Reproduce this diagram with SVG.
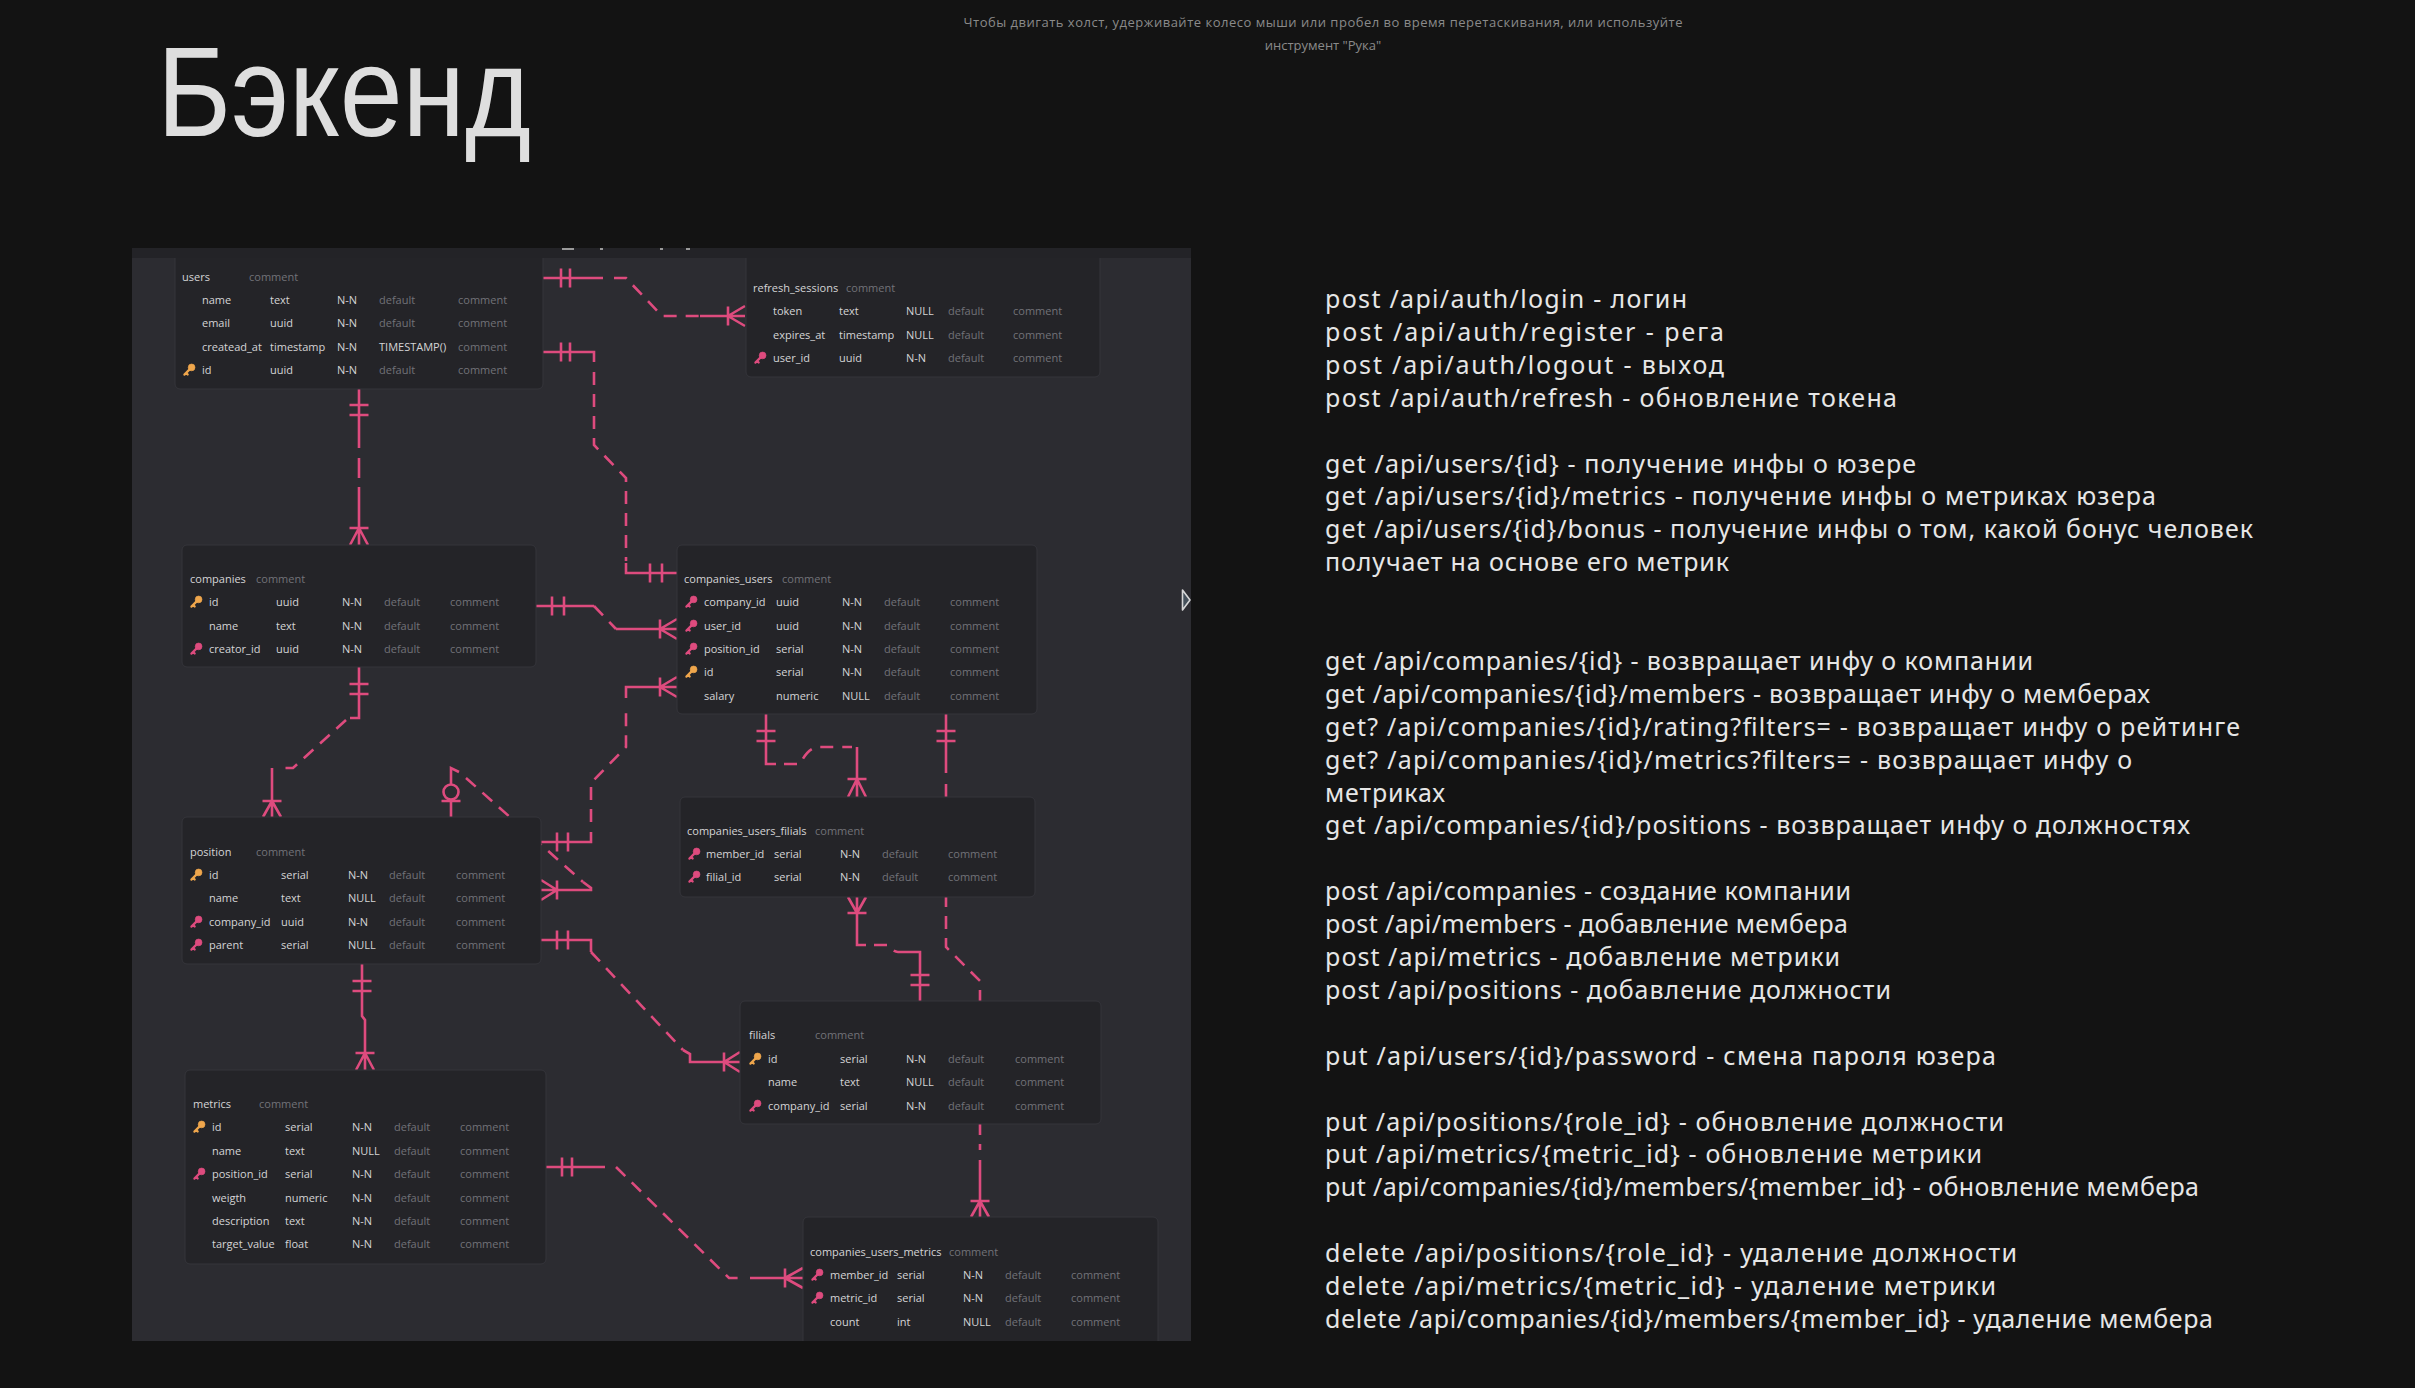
<svg xmlns="http://www.w3.org/2000/svg" xmlns:xlink="http://www.w3.org/1999/xlink" width="2415" height="1388" viewBox="0 0 2415 1388">
<style>
.bg{fill:#131313}
.panel{fill:#2c2c31}
.strip{fill:#232327}
.tb{fill:#242428;stroke:#35353b;stroke-width:1}
.t{font-family:"Open Sans","Noto Sans",sans-serif;font-size:11px;fill:#d4d4d6}
.c{fill:#727278}
.rel{fill:none;stroke:#de4b7e;stroke-width:2.6}
.dash{stroke-dasharray:13 9}
.pk{fill:#efa64c;stroke:#efa64c}
.fk{fill:#de4b7e;stroke:#de4b7e}
.api{font-family:"Noto Sans","DejaVu Sans",sans-serif;font-size:25px;fill:#e6e6e6}
.hint{font-family:"Open Sans","Noto Sans",sans-serif;font-size:13px;fill:#8a8a8a}
.title{font-family:"Liberation Sans","DejaVu Sans",sans-serif;font-size:128px;fill:#dedede}
</style>
<defs>
<g id="key">
<circle cx="2.6" cy="-2.6" r="3.4" stroke-width="0.6"/>
<path d="M0.6,-0.6 L-4.6,4.6 M-2.9,2.9 L-1.3,4.5" fill="none" stroke-width="2.2" stroke-linecap="round"/>
</g>
<clipPath id="pclip"><rect x="132" y="248" width="1059" height="1093"/></clipPath>
</defs>

<rect class="bg" x="0" y="0" width="2415" height="1388"/>

<!-- canvas hint -->
<text class="hint" x="1323" y="27" text-anchor="middle" textLength="719">Чтобы двигать холст, удерживайте колесо мыши или пробел во время перетаскивания, или используйте</text>
<text class="hint" x="1323" y="50" text-anchor="middle">инструмент "Рука"</text>

<!-- heading -->
<text class="title" x="157" y="136" textLength="374" lengthAdjust="spacingAndGlyphs">Бэкенд</text>

<!-- schema screenshot -->
<rect class="panel" x="132" y="248" width="1059" height="1093"/>
<g clip-path="url(#pclip)">

<g id="connectors">
<g id="rel-users-refresh">
<path class="rel" d="M543,278 H603 M700,316 H745 M561,268.5 V287.5 M570,268.5 V287.5 M728,306.5 V325.5 M728,316 L745,306 M728,316 L745,326"/>
<path class="rel dash" d="M614,278 H626 L662,316 H700"/>
</g>
<g id="rel-users-companies">
<path class="rel" d="M359,389 V448 M359,458 V478 M359,487 V545 M349.5,405 H368.5 M349.5,415 H368.5 M349.5,528 H368.5 M359,528 L350,545 M359,528 L368,545"/>
</g>
<g id="rel-users-members">
<path class="rel" d="M543,352 H594 V362 M626,563 V573 H677 M561,342.5 V361.5 M570,342.5 V361.5 M650,563.5 V582.5 M662,563.5 V582.5"/>
<path class="rel dash" d="M594,372 V445 L626,478 V561"/>
</g>
<g id="rel-companies-members">
<path class="rel" d="M536,606 H594 M616,629 H677 M552,596.5 V615.5 M564,596.5 V615.5 M660,619.5 V638.5 M660,629 L677,619 M660,629 L677,639"/>
<path class="rel dash" d="M594,606 L616,629"/>
</g>
<g id="rel-position-members">
<path class="rel" d="M541,842 H591 V832 M626,698 V687 H677 M557,832.5 V851.5 M568,832.5 V851.5 M660,677.5 V696.5 M660,687 L677,677 M660,687 L677,697"/>
<path class="rel dash" d="M591,822 V783 L626,747 V705"/>
</g>
<g id="rel-companies-position">
<path class="rel" d="M359,667 V718 H350 M272,768 V817 M349.5,684 H368.5 M349.5,694 H368.5 M262.5,801 H281.5 M272,801 L263,817 M272,801 L281,817"/>
<path class="rel dash" d="M346,720 L293,768 H278"/>
</g>
<g id="rel-position-parent">
<path class="rel" d="M451,817 V768 L459,772 M583,882 L591,888 V890 H541 M441.5,801 H460.5 M557,880.5 V899.5 M557,890 L541,880 M557,890 L541,900"/>
<circle class="rel" cx="451" cy="792" r="7.5" style="fill:#2c2c31"/>
<path class="rel dash" d="M466,778 L583,882"/>
</g>
<g id="rel-position-metrics">
<path class="rel" d="M362,964 V1016 L365,1020 V1070 M352.5,981 H371.5 M352.5,991 H371.5 M355.5,1053 H374.5 M365,1053 L356,1070 M365,1053 L374,1070"/>
</g>
<g id="rel-position-filials">
<path class="rel" d="M541,940 H591 V952 M683,1050 L690,1054 V1062 H740 M557,930.5 V949.5 M568,930.5 V949.5 M724,1052.5 V1071.5 M724,1062 L740,1052 M724,1062 L740,1072"/>
<path class="rel dash" d="M591,952 L683,1050"/>
</g>
<g id="rel-metrics-member-metrics">
<path class="rel" d="M546,1167 H605 M750,1278 H803 M562,1157.5 V1176.5 M572,1157.5 V1176.5 M785,1268.5 V1287.5 M785,1278 L803,1268 M785,1278 L803,1288"/>
<path class="rel dash" d="M616,1167 L729,1278 H745"/>
</g>
<g id="rel-members-member-filials">
<path class="rel" d="M766,714 V764 H776 M857,747 V797 M756.5,731 H775.5 M756.5,741 H775.5 M847.5,779 H866.5 M857,779 L848,797 M857,779 L866,797"/>
<path class="rel dash" d="M784,764 H800 Q808,748 818,747 H852"/>
</g>
<g id="rel-members-member-metrics">
<path class="rel" d="M946,714 V773 M980,1160 V1217 M936.5,731 H955.5 M936.5,741 H955.5 M970.5,1201 H989.5 M980,1201 L971,1217 M980,1201 L989,1217"/>
<path class="rel dash" d="M946,784 V947 L980,981 V1150"/>
</g>
<g id="rel-member-filials-filials">
<path class="rel" d="M857,897 V945 H866 M898,952 H920 V1001 M847.5,913 H866.5 M857,913 L848,897 M857,913 L866,897 M910.5,975 H929.5 M910.5,985 H929.5"/>
<path class="rel dash" d="M874,945 H888 Q893,952 898,952"/>
</g>
</g>

<g id="t-users">
<rect class="tb" x="175" y="240" width="368" height="149" rx="5"/>
<text class="t" x="182" y="281">users</text><text class="t c" x="249" y="281">comment</text>
<text class="t" x="202" y="304">name</text><text class="t" x="270" y="304">text</text><text class="t" x="337" y="304">N-N</text><text class="t c" x="379" y="304">default</text><text class="t c" x="458" y="304">comment</text>
<text class="t" x="202" y="327">email</text><text class="t" x="270" y="327">uuid</text><text class="t" x="337" y="327">N-N</text><text class="t c" x="379" y="327">default</text><text class="t c" x="458" y="327">comment</text>
<text class="t" x="202" y="351">createad_at</text><text class="t" x="270" y="351">timestamp</text><text class="t" x="337" y="351">N-N</text><text class="t" x="379" y="351">TIMESTAMP()</text><text class="t c" x="458" y="351">comment</text>
<use href="#key" class="pk" x="189" y="370"/>
<text class="t" x="202" y="374">id</text><text class="t" x="270" y="374">uuid</text><text class="t" x="337" y="374">N-N</text><text class="t c" x="379" y="374">default</text><text class="t c" x="458" y="374">comment</text>
</g>

<g id="t-refresh_sessions">
<rect class="tb" x="746" y="240" width="354" height="137" rx="5"/>
<text class="t" x="753" y="292">refresh_sessions</text><text class="t c" x="846" y="292">comment</text>
<text class="t" x="773" y="315">token</text><text class="t" x="839" y="315">text</text><text class="t" x="906" y="315">NULL</text><text class="t c" x="948" y="315">default</text><text class="t c" x="1013" y="315">comment</text>
<text class="t" x="773" y="339">expires_at</text><text class="t" x="839" y="339">timestamp</text><text class="t" x="906" y="339">NULL</text><text class="t c" x="948" y="339">default</text><text class="t c" x="1013" y="339">comment</text>
<use href="#key" class="fk" x="760" y="358"/>
<text class="t" x="773" y="362">user_id</text><text class="t" x="839" y="362">uuid</text><text class="t" x="906" y="362">N-N</text><text class="t c" x="948" y="362">default</text><text class="t c" x="1013" y="362">comment</text>
</g>

<g id="t-companies">
<rect class="tb" x="182" y="545" width="354" height="122" rx="5"/>
<text class="t" x="190" y="583">companies</text><text class="t c" x="256" y="583">comment</text>
<use href="#key" class="pk" x="196" y="602"/>
<text class="t" x="209" y="606">id</text><text class="t" x="276" y="606">uuid</text><text class="t" x="342" y="606">N-N</text><text class="t c" x="384" y="606">default</text><text class="t c" x="450" y="606">comment</text>
<text class="t" x="209" y="630">name</text><text class="t" x="276" y="630">text</text><text class="t" x="342" y="630">N-N</text><text class="t c" x="384" y="630">default</text><text class="t c" x="450" y="630">comment</text>
<use href="#key" class="fk" x="196" y="649"/>
<text class="t" x="209" y="653">creator_id</text><text class="t" x="276" y="653">uuid</text><text class="t" x="342" y="653">N-N</text><text class="t c" x="384" y="653">default</text><text class="t c" x="450" y="653">comment</text>
</g>

<g id="t-companies_users">
<rect class="tb" x="677" y="545" width="360" height="169" rx="5"/>
<text class="t" x="684" y="583">companies_users</text><text class="t c" x="782" y="583">comment</text>
<use href="#key" class="fk" x="691" y="602"/>
<text class="t" x="704" y="606">company_id</text><text class="t" x="776" y="606">uuid</text><text class="t" x="842" y="606">N-N</text><text class="t c" x="884" y="606">default</text><text class="t c" x="950" y="606">comment</text>
<use href="#key" class="fk" x="691" y="626"/>
<text class="t" x="704" y="630">user_id</text><text class="t" x="776" y="630">uuid</text><text class="t" x="842" y="630">N-N</text><text class="t c" x="884" y="630">default</text><text class="t c" x="950" y="630">comment</text>
<use href="#key" class="fk" x="691" y="649"/>
<text class="t" x="704" y="653">position_id</text><text class="t" x="776" y="653">serial</text><text class="t" x="842" y="653">N-N</text><text class="t c" x="884" y="653">default</text><text class="t c" x="950" y="653">comment</text>
<use href="#key" class="pk" x="691" y="672"/>
<text class="t" x="704" y="676">id</text><text class="t" x="776" y="676">serial</text><text class="t" x="842" y="676">N-N</text><text class="t c" x="884" y="676">default</text><text class="t c" x="950" y="676">comment</text>
<text class="t" x="704" y="700">salary</text><text class="t" x="776" y="700">numeric</text><text class="t" x="842" y="700">NULL</text><text class="t c" x="884" y="700">default</text><text class="t c" x="950" y="700">comment</text>
</g>

<g id="t-position">
<rect class="tb" x="182" y="817" width="359" height="147" rx="5"/>
<text class="t" x="190" y="856">position</text><text class="t c" x="256" y="856">comment</text>
<use href="#key" class="pk" x="196" y="875"/>
<text class="t" x="209" y="879">id</text><text class="t" x="281" y="879">serial</text><text class="t" x="348" y="879">N-N</text><text class="t c" x="389" y="879">default</text><text class="t c" x="456" y="879">comment</text>
<text class="t" x="209" y="902">name</text><text class="t" x="281" y="902">text</text><text class="t" x="348" y="902">NULL</text><text class="t c" x="389" y="902">default</text><text class="t c" x="456" y="902">comment</text>
<use href="#key" class="fk" x="196" y="922"/>
<text class="t" x="209" y="926">company_id</text><text class="t" x="281" y="926">uuid</text><text class="t" x="348" y="926">N-N</text><text class="t c" x="389" y="926">default</text><text class="t c" x="456" y="926">comment</text>
<use href="#key" class="fk" x="196" y="945"/>
<text class="t" x="209" y="949">parent</text><text class="t" x="281" y="949">serial</text><text class="t" x="348" y="949">NULL</text><text class="t c" x="389" y="949">default</text><text class="t c" x="456" y="949">comment</text>
</g>

<g id="t-companies_users_filials">
<rect class="tb" x="680" y="797" width="355" height="100" rx="5"/>
<text class="t" x="687" y="835">companies_users_filials</text><text class="t c" x="815" y="835">comment</text>
<use href="#key" class="fk" x="694" y="854"/>
<text class="t" x="706" y="858">member_id</text><text class="t" x="774" y="858">serial</text><text class="t" x="840" y="858">N-N</text><text class="t c" x="882" y="858">default</text><text class="t c" x="948" y="858">comment</text>
<use href="#key" class="fk" x="694" y="877"/>
<text class="t" x="706" y="881">filial_id</text><text class="t" x="774" y="881">serial</text><text class="t" x="840" y="881">N-N</text><text class="t c" x="882" y="881">default</text><text class="t c" x="948" y="881">comment</text>
</g>

<g id="t-metrics">
<rect class="tb" x="185" y="1070" width="361" height="194" rx="5"/>
<text class="t" x="193" y="1108">metrics</text><text class="t c" x="259" y="1108">comment</text>
<use href="#key" class="pk" x="199" y="1127"/>
<text class="t" x="212" y="1131">id</text><text class="t" x="285" y="1131">serial</text><text class="t" x="352" y="1131">N-N</text><text class="t c" x="394" y="1131">default</text><text class="t c" x="460" y="1131">comment</text>
<text class="t" x="212" y="1155">name</text><text class="t" x="285" y="1155">text</text><text class="t" x="352" y="1155">NULL</text><text class="t c" x="394" y="1155">default</text><text class="t c" x="460" y="1155">comment</text>
<use href="#key" class="fk" x="199" y="1174"/>
<text class="t" x="212" y="1178">position_id</text><text class="t" x="285" y="1178">serial</text><text class="t" x="352" y="1178">N-N</text><text class="t c" x="394" y="1178">default</text><text class="t c" x="460" y="1178">comment</text>
<text class="t" x="212" y="1202">weigth</text><text class="t" x="285" y="1202">numeric</text><text class="t" x="352" y="1202">N-N</text><text class="t c" x="394" y="1202">default</text><text class="t c" x="460" y="1202">comment</text>
<text class="t" x="212" y="1225">description</text><text class="t" x="285" y="1225">text</text><text class="t" x="352" y="1225">N-N</text><text class="t c" x="394" y="1225">default</text><text class="t c" x="460" y="1225">comment</text>
<text class="t" x="212" y="1248">target_value</text><text class="t" x="285" y="1248">float</text><text class="t" x="352" y="1248">N-N</text><text class="t c" x="394" y="1248">default</text><text class="t c" x="460" y="1248">comment</text>
</g>

<g id="t-filials">
<rect class="tb" x="740" y="1001" width="361" height="123" rx="5"/>
<text class="t" x="749" y="1039">filials</text><text class="t c" x="815" y="1039">comment</text>
<use href="#key" class="pk" x="755" y="1059"/>
<text class="t" x="768" y="1063">id</text><text class="t" x="840" y="1063">serial</text><text class="t" x="906" y="1063">N-N</text><text class="t c" x="948" y="1063">default</text><text class="t c" x="1015" y="1063">comment</text>
<text class="t" x="768" y="1086">name</text><text class="t" x="840" y="1086">text</text><text class="t" x="906" y="1086">NULL</text><text class="t c" x="948" y="1086">default</text><text class="t c" x="1015" y="1086">comment</text>
<use href="#key" class="fk" x="755" y="1106"/>
<text class="t" x="768" y="1110">company_id</text><text class="t" x="840" y="1110">serial</text><text class="t" x="906" y="1110">N-N</text><text class="t c" x="948" y="1110">default</text><text class="t c" x="1015" y="1110">comment</text>
</g>

<g id="t-companies_users_metrics">
<rect class="tb" x="803" y="1217" width="355" height="135" rx="5"/>
<text class="t" x="810" y="1256">companies_users_metrics</text><text class="t c" x="949" y="1256">comment</text>
<use href="#key" class="fk" x="817" y="1275"/>
<text class="t" x="830" y="1279">member_id</text><text class="t" x="897" y="1279">serial</text><text class="t" x="963" y="1279">N-N</text><text class="t c" x="1005" y="1279">default</text><text class="t c" x="1071" y="1279">comment</text>
<use href="#key" class="fk" x="817" y="1298"/>
<text class="t" x="830" y="1302">metric_id</text><text class="t" x="897" y="1302">serial</text><text class="t" x="963" y="1302">N-N</text><text class="t c" x="1005" y="1302">default</text><text class="t c" x="1071" y="1302">comment</text>
<text class="t" x="830" y="1326">count</text><text class="t" x="897" y="1326">int</text><text class="t" x="963" y="1326">NULL</text><text class="t c" x="1005" y="1326">default</text><text class="t c" x="1071" y="1326">comment</text>
</g>

<!-- toolbar strip along the top edge, partly covering the upper tables -->
<rect class="strip" x="132" y="248" width="1059" height="10"/>
<rect x="562" y="248" width="12" height="2" fill="#9a9a9a"/>
<rect x="600" y="248" width="3" height="2" fill="#9a9a9a"/>
<rect x="660" y="248" width="3" height="2" fill="#9a9a9a"/>
<rect x="686" y="248" width="4" height="2" fill="#9a9a9a"/>
<!-- side-panel handle -->
<path d="M1182.5,590 L1190,600 L1182.5,610 Z" fill="#45505a" stroke="#d6d6d6" stroke-width="1.6" stroke-linejoin="round"/>
</g>

<!-- endpoint list -->
<g id="api-notes">
<text class="api" x="1325" y="308" textLength="362">post /api/auth/login - логин</text>
<text class="api" x="1325" y="340.9" textLength="399">post /api/auth/register - рега</text>
<text class="api" x="1325" y="373.8" textLength="399">post /api/auth/logout - выход</text>
<text class="api" x="1325" y="406.7" textLength="572">post /api/auth/refresh - обновление токена</text>
<text class="api" x="1325" y="472.5" textLength="591">get /api/users/{id} - получение инфы о юзере</text>
<text class="api" x="1325" y="505.4" textLength="831">get /api/users/{id}/metrics - получение инфы о метриках юзера</text>
<text class="api" x="1325" y="538.3" textLength="928">get /api/users/{id}/bonus - получение инфы о том, какой бонус человек</text>
<text class="api" x="1325" y="571.2" textLength="404">получает на основе его метрик</text>
<text class="api" x="1325" y="669.9" textLength="708">get /api/companies/{id} - возвращает инфу о компании</text>
<text class="api" x="1325" y="702.8" textLength="825">get /api/companies/{id}/members - возвращает инфу о мемберах</text>
<text class="api" x="1325" y="735.7" textLength="915">get? /api/companies/{id}/rating?filters= - возвращает инфу о рейтинге</text>
<text class="api" x="1325" y="768.6" textLength="807">get? /api/companies/{id}/metrics?filters= - возвращает инфу о</text>
<text class="api" x="1325" y="801.5" textLength="120">метриках</text>
<text class="api" x="1325" y="834.4" textLength="865">get /api/companies/{id}/positions - возвращает инфу о должностях</text>
<text class="api" x="1325" y="900.2" textLength="526">post /api/companies - создание компании</text>
<text class="api" x="1325" y="933.1" textLength="523">post /api/members - добавление мембера</text>
<text class="api" x="1325" y="966" textLength="515">post /api/metrics - добавление метрики</text>
<text class="api" x="1325" y="998.9" textLength="566">post /api/positions - добавление должности</text>
<text class="api" x="1325" y="1064.7" textLength="671">put /api/users/{id}/password - смена пароля юзера</text>
<text class="api" x="1325" y="1130.5" textLength="679">put /api/positions/{role_id} - обновление должности</text>
<text class="api" x="1325" y="1163.4" textLength="657">put /api/metrics/{metric_id} - обновление метрики</text>
<text class="api" x="1325" y="1196.3" textLength="874">put /api/companies/{id}/members/{member_id} - обновление мембера</text>
<text class="api" x="1325" y="1262.1" textLength="692">delete /api/positions/{role_id} - удаление должности</text>
<text class="api" x="1325" y="1295" textLength="671">delete /api/metrics/{metric_id} - удаление метрики</text>
<text class="api" x="1325" y="1327.9" textLength="888">delete /api/companies/{id}/members/{member_id} - удаление мембера</text>
</g>
</svg>
